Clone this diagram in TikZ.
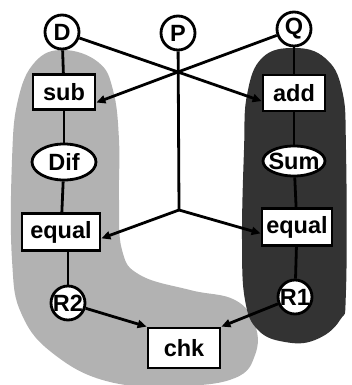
\documentclass[tikz,border=0pt]{standalone}
\usepackage{fontspec}
\setmainfont{Liberation Sans}
\usetikzlibrary{arrows.meta,shapes.geometric}
\begin{document}
\begin{tikzpicture}[x=1pt,y=-1pt,
  every node/.style={font=\fontsize{23.5}{27}\selectfont\bfseries,
    inner sep=0pt, fill=white, draw, line width=2.8pt},
  place/.style={circle, minimum size=34pt},
  op/.style={rectangle, minimum height=36pt},
  val/.style={ellipse},
  link/.style={line width=2.8pt},
  flow/.style={link, -{Triangle[length=9pt,width=8pt]}},
  lightzone/.style={fill=black!30},
  darkzone/.style={fill=black!80}
]
\useasboundingbox (0,0) rectangle (351,385);

% shaded regions behind the two columns
\fill[lightzone] plot[smooth cycle, tension=0.7] coordinates {
  (63,50) (98,62) (113,90) (119,140) (119,200) (122,250) (140,275)
  (190,290) (235,300) (255,325) (255,355) (235,378) (180,386) (110,382)
  (55,355) (22,315) (12,260) (12,160) (18,100) (35,62)};
\fill[darkzone] plot[smooth cycle, tension=0.7] coordinates {
  (294,48) (325,58) (342,90) (346,150) (346,290) (340,320) (315,340)
  (285,342) (258,330) (245,300) (242,240) (244,150) (247,95) (262,58)};

% inputs
\node[place] (D) at (62,32) {\makebox[0pt]{D}};
\node[place] (P) at (178,33) {\makebox[0pt]{P}};
\node[place] (Q) at (294,29) {\makebox[0pt]{Q}};

% left column
\node[op, minimum width=62pt, minimum height=35pt] (sub) at (64,92) {sub};
\node[val, minimum width=64pt, minimum height=36pt] (Dif) at (64,162) {\makebox[0pt]{Dif}};
\node[op, minimum width=78pt, minimum height=37pt] (eq1) at (61,232) {equal};
\node[place] (R2) at (68,303) {\makebox[0pt]{R2}};

% right column
\node[op, minimum width=62pt] (add) at (294,93) {add};
\node[val, minimum width=62pt, minimum height=30pt] (Sum) at (294,161) {\makebox[0pt]{Sum}};
\node[op, minimum width=70pt, minimum height=37pt] (eq2) at (297,227) {equal};
\node[place] (R1) at (295,297) {\makebox[0pt]{R1}};

\node[op, minimum width=72pt, minimum height=40pt] (chk) at (184,348) {chk};

\coordinate (X) at (178,72);
\coordinate (J) at (179,210);

% column links
\draw[link] (D) -- (sub);
\draw[link] (sub) -- (Dif);
\draw[link] (Dif) -- (eq1);
\draw[link] (eq1.south -| R2) -- (R2);
\draw[link] (Q) -- (add);
\draw[link] (add) -- (Sum);
\draw[link] (Sum) -- (eq2);
\draw[link] (eq2) -- (R1);

% crossing inputs and the shared P line
\draw[flow] (D) -- (X) -- (add.194);
\draw[flow] (Q) -- (X) -- (sub.342);
\draw[link] (P) -- (J);
\draw[flow] (J) -- (eq1.351);
\draw[flow] (J) -- (eq2.190);

% results into chk
\draw[flow] (R2) -- (chk.north west);
\draw[flow] (R1) -- (chk.north east);
\end{tikzpicture}
\end{document}
